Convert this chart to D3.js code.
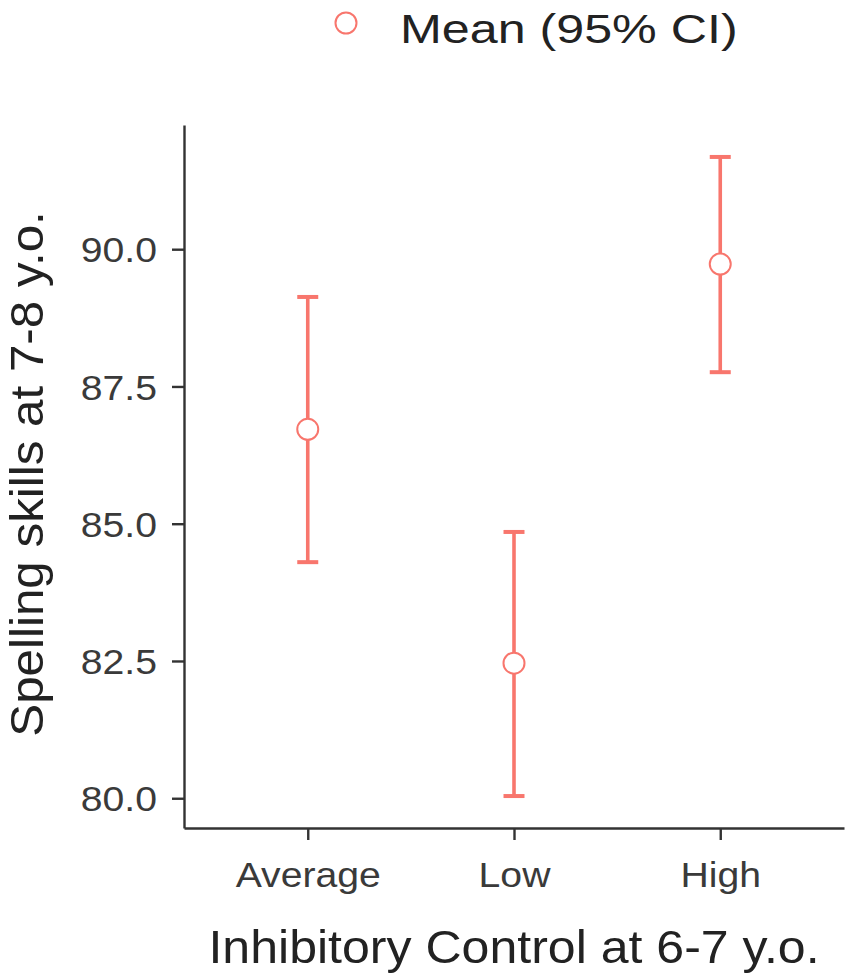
<!DOCTYPE html>
<html>
<head>
<meta charset="utf-8">
<script src="https://cdn.jsdelivr.net/npm/d3@7"></script>
<style>
  html, body { margin: 0; padding: 0; background: #fff; }
  svg { display: block; font-family: "Liberation Sans", Arial, sans-serif; }
</style>
</head>
<body>
<svg id="chart" width="851" height="980"></svg>
<script>
// ---- data ----
const categories = ["Average", "Low", "High"];
const means = [86.72, 82.46, 89.73];
const lower = [84.30, 80.04, 87.76];
const upper = [89.13, 84.85, 91.68];
const yTicks = [80.0, 82.5, 85.0, 87.5, 90.0];
const legendLabel = "Mean (95% CI)";
const xTitle = "Inhibitory Control at 6-7 y.o.";
const yTitle = "Spelling skills at 7-8 y.o.";

(function () {
const color = "#F8766D";
const axisColor = "#333333";

const svg = d3.select("#chart");
const pLeft = 184, pRight = 844, pTop = 125, pBottom = 828;

// ggplot-like 5% expansion
const dMin = d3.min(lower), dMax = d3.max(upper);
const pad = (dMax - dMin) * 0.05;
const y = d3.scaleLinear().domain([dMin - pad, dMax + pad]).range([pBottom, pTop]);
const x = d3.scalePoint().domain(categories).range([pLeft, pRight]).padding(0.6);

// axes
const tickSX = 1.12;
const yAxis = svg.append("g").attr("transform", `translate(${pLeft},0)`)
  .call(d3.axisLeft(y).tickValues(yTicks).tickFormat(d3.format(".1f")).tickSize(12).tickSizeOuter(0));
yAxis.select(".domain").attr("stroke", axisColor).attr("stroke-width", 2.4);
yAxis.selectAll(".tick line").attr("stroke", axisColor).attr("stroke-width", 2.4);
yAxis.selectAll(".tick text")
  .attr("fill", "#3a3a3a").attr("font-size", 35)
  .attr("font-family", "Liberation Sans, Arial, sans-serif")
  .attr("x", -27 / tickSX).attr("dy", "0.36em")
  .attr("transform", `scale(${tickSX},1)`);

const xAxis = svg.append("g").attr("transform", `translate(0,${pBottom})`)
  .call(d3.axisBottom(x).tickSize(12).tickSizeOuter(0));
xAxis.select(".domain").attr("stroke", axisColor).attr("stroke-width", 2.4);
xAxis.selectAll(".tick line").attr("stroke", axisColor).attr("stroke-width", 2.4);
xAxis.selectAll(".tick text")
  .attr("fill", "#3a3a3a").attr("font-size", 35)
  .attr("font-family", "Liberation Sans, Arial, sans-serif")
  .attr("y", 59).attr("dy", 0)
  .attr("transform", `scale(${tickSX},1)`)
  .attr("x", 0);

// error bars
const capW = 21;
const g = svg.append("g");
categories.forEach((c, i) => {
  const cx = x(c);
  g.append("line").attr("x1", cx).attr("x2", cx)
    .attr("y1", y(lower[i])).attr("y2", y(upper[i]))
    .attr("stroke", color).attr("stroke-width", 3.6);
  [lower[i], upper[i]].forEach(v => {
    g.append("line").attr("x1", cx - capW / 2).attr("x2", cx + capW / 2)
      .attr("y1", y(v)).attr("y2", y(v))
      .attr("stroke", color).attr("stroke-width", 4);
  });
});
g.selectAll("circle.pt").data(categories).join("circle")
  .attr("class", "pt")
  .attr("cx", d => x(d)).attr("cy", (d, i) => y(means[i]))
  .attr("r", 10.5).attr("fill", "#fff")
  .attr("stroke", color).attr("stroke-width", 2);

// titles
svg.append("text").text(xTitle)
  .attr("text-anchor", "middle").attr("font-size", 47).attr("fill", "#222")
  .attr("transform", `translate(514,963) scale(1.065,1)`);
svg.append("text").text(yTitle)
  .attr("text-anchor", "middle").attr("font-size", 47).attr("fill", "#222")
  .attr("transform", `translate(43,474) rotate(-90) scale(1.05,1)`);

// legend
svg.append("circle").attr("cx", 346).attr("cy", 23).attr("r", 10.5)
  .attr("fill", "#fff").attr("stroke", color).attr("stroke-width", 2);
svg.append("text").text(legendLabel)
  .attr("font-size", 41).attr("fill", "#222")
  .attr("transform", `translate(400,43) scale(1.225,1)`);
})();
</script>
</body>
</html>
